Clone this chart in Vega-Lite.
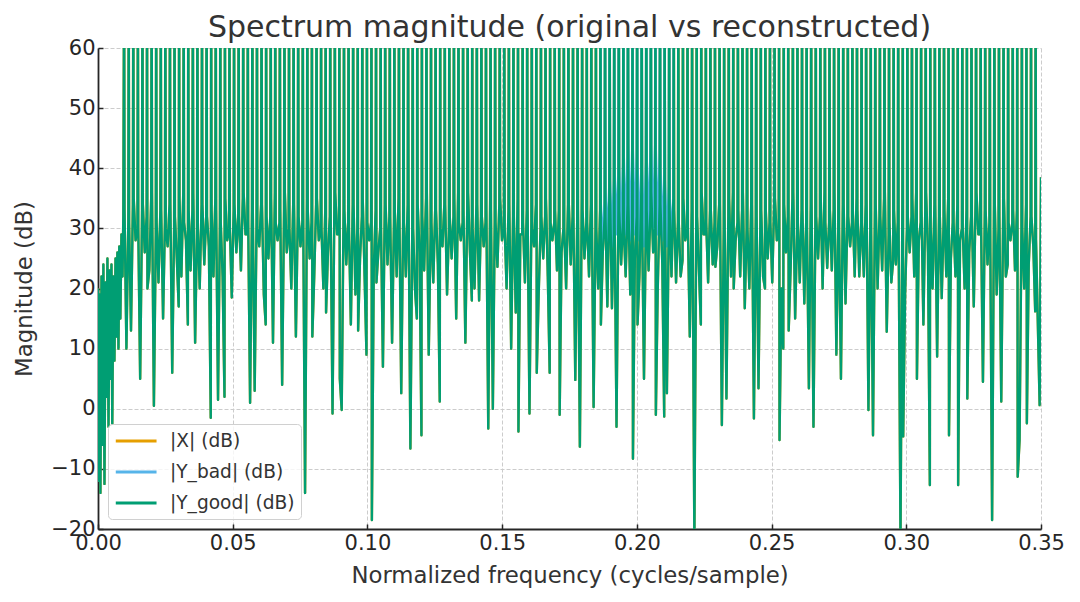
{
"$schema":"https://vega.github.io/schema/vega-lite/v6.json",
"width":943,"height":481,
"autosize":{"type":"none"},
"padding":{"left":98,"top":48,"right":39,"bottom":73},
"background":"white",
"title":{"text":"Spectrum magnitude (original vs reconstructed)","fontSize":30,"font":"DejaVu Sans","fontWeight":"normal","color":"#333333","anchor":"middle","frame":"group","offset":-6},
"datasets":{
"good":[
{"f":0.0,"db":20},{"f":0.0004,"db":-12},{"f":0.0006,"db":19},{"f":0.0009,"db":-14},{"f":0.0013,"db":22},{"f":0.0017,"db":-6},{"f":0.002,"db":24},{"f":0.0024,"db":-12.5},{"f":0.0028,"db":21},{"f":0.0031,"db":2},{"f":0.0035,"db":25},{"f":0.0039,"db":-3},{"f":0.0043,"db":23},{"f":0.0046,"db":5},{"f":0.005,"db":24},{"f":0.0053,"db":-2.5},{"f":0.0057,"db":22},{"f":0.0061,"db":8},{"f":0.0065,"db":25},{"f":0.0068,"db":12},{"f":0.0072,"db":26},{"f":0.0076,"db":10},{"f":0.0079,"db":27},{"f":0.0083,"db":15},{"f":0.0087,"db":29},{"f":0.0091,"db":22},{"f":0.0094,"db":32},
{"f":0.0097,"db":75},{"f":0.00985,"db":33},{"f":0.01055,"db":10},{"f":0.01125,"db":31},
{"f":0.0114,"db":75},{"f":0.01155,"db":31},{"f":0.01225,"db":13},{"f":0.01295,"db":34},
{"f":0.0131,"db":75},{"f":0.01325,"db":35},{"f":0.01395,"db":28},{"f":0.01465,"db":30},
{"f":0.0148,"db":75},{"f":0.01495,"db":30},{"f":0.01565,"db":5},{"f":0.01635,"db":33},
{"f":0.0165,"db":75},{"f":0.01665,"db":34},{"f":0.01735,"db":26},{"f":0.01805,"db":32},
{"f":0.0182,"db":75},{"f":0.01835,"db":20},{"f":0.01905,"db":23},{"f":0.01975,"db":35},
{"f":0.0199,"db":75},{"f":0.02005,"db":36},{"f":0.02075,"db":0.5},{"f":0.02145,"db":29},
{"f":0.0216,"db":75},{"f":0.02175,"db":31},{"f":0.02245,"db":21},{"f":0.02315,"db":33},
{"f":0.0233,"db":75},{"f":0.02345,"db":33},{"f":0.02415,"db":15},{"f":0.02485,"db":31},
{"f":0.025,"db":75},{"f":0.02515,"db":30},{"f":0.02585,"db":27},{"f":0.02655,"db":34},
{"f":0.0267,"db":75},{"f":0.02685,"db":34},{"f":0.02755,"db":6},{"f":0.02825,"db":30},
{"f":0.0284,"db":75},{"f":0.02855,"db":32},{"f":0.02925,"db":25},{"f":0.02995,"db":17},
{"f":0.0301,"db":75},{"f":0.03025,"db":35},{"f":0.03095,"db":22},{"f":0.03165,"db":36},
{"f":0.0318,"db":75},{"f":0.03195,"db":31},{"f":0.03265,"db":28},{"f":0.03335,"db":14},
{"f":0.0335,"db":75},{"f":0.03365,"db":33},{"f":0.03435,"db":23},{"f":0.03505,"db":33},
{"f":0.0352,"db":75},{"f":0.03535,"db":36},{"f":0.03605,"db":11},{"f":0.03675,"db":30},
{"f":0.0369,"db":75},{"f":0.03705,"db":30},{"f":0.03775,"db":20},{"f":0.03845,"db":34},
{"f":0.0386,"db":75},{"f":0.03875,"db":34},{"f":0.03945,"db":24},{"f":0.04015,"db":32},
{"f":0.0403,"db":75},{"f":0.04045,"db":32},{"f":0.04115,"db":27},{"f":0.04185,"db":-1.5},
{"f":0.042,"db":75},{"f":0.04215,"db":33},{"f":0.04285,"db":22},{"f":0.04355,"db":35},
{"f":0.0437,"db":75},{"f":0.04385,"db":33},{"f":0.04455,"db":1.5},{"f":0.04525,"db":31},
{"f":0.0454,"db":75},{"f":0.04555,"db":31},{"f":0.04625,"db":22},{"f":0.04695,"db":2},
{"f":0.0471,"db":75},{"f":0.04725,"db":35},{"f":0.04795,"db":28},{"f":0.04865,"db":30},
{"f":0.0488,"db":75},{"f":0.04895,"db":30},{"f":0.04965,"db":18.5},{"f":0.05035,"db":33},
{"f":0.0505,"db":75},{"f":0.05065,"db":34},{"f":0.05135,"db":26},{"f":0.05205,"db":32},
{"f":0.0522,"db":75},{"f":0.05235,"db":32},{"f":0.05305,"db":23},{"f":0.05375,"db":35},
{"f":0.0539,"db":75},{"f":0.05405,"db":36},{"f":0.05475,"db":29},{"f":0.05545,"db":29},
{"f":0.0556,"db":75},{"f":0.05575,"db":31},{"f":0.05645,"db":1},{"f":0.05715,"db":33},
{"f":0.0573,"db":75},{"f":0.05745,"db":33},{"f":0.05815,"db":3},{"f":0.05885,"db":31},
{"f":0.059,"db":75},{"f":0.05915,"db":30},{"f":0.05985,"db":27},{"f":0.06055,"db":34},
{"f":0.0607,"db":75},{"f":0.06085,"db":34},{"f":0.06155,"db":19},{"f":0.06225,"db":14},
{"f":0.0624,"db":75},{"f":0.06255,"db":32},{"f":0.06325,"db":25},{"f":0.06395,"db":32},
{"f":0.0641,"db":75},{"f":0.06425,"db":35},{"f":0.06495,"db":11},{"f":0.06565,"db":36},
{"f":0.0658,"db":75},{"f":0.06595,"db":31},{"f":0.06665,"db":28},{"f":0.06735,"db":31},
{"f":0.0675,"db":75},{"f":0.06765,"db":33},{"f":0.06835,"db":4},{"f":0.06905,"db":33},
{"f":0.0692,"db":75},{"f":0.06935,"db":36},{"f":0.07005,"db":26},{"f":0.07075,"db":30},
{"f":0.0709,"db":75},{"f":0.07105,"db":30},{"f":0.07175,"db":20},{"f":0.07245,"db":34},
{"f":0.0726,"db":75},{"f":0.07275,"db":34},{"f":0.07345,"db":12},{"f":0.07415,"db":32},
{"f":0.0743,"db":75},{"f":0.07445,"db":32},{"f":0.07515,"db":27},{"f":0.07585,"db":31},
{"f":0.076,"db":75},{"f":0.07615,"db":33},{"f":0.07685,"db":-14},{"f":0.07755,"db":35},
{"f":0.0777,"db":75},{"f":0.07785,"db":33},{"f":0.07855,"db":25},{"f":0.07925,"db":31},
{"f":0.0794,"db":75},{"f":0.07955,"db":12},{"f":0.08025,"db":22},{"f":0.08095,"db":34},
{"f":0.0811,"db":75},{"f":0.08125,"db":35},{"f":0.08195,"db":28},{"f":0.08265,"db":30},
{"f":0.0828,"db":75},{"f":0.08295,"db":30},{"f":0.08365,"db":20},{"f":0.08435,"db":33},
{"f":0.0845,"db":75},{"f":0.08465,"db":16},{"f":0.08535,"db":26},{"f":0.08605,"db":32},
{"f":0.0862,"db":75},{"f":0.08635,"db":32},{"f":0.08705,"db":-0.8},{"f":0.08775,"db":35},
{"f":0.0879,"db":75},{"f":0.08805,"db":36},{"f":0.08875,"db":29},{"f":0.08945,"db":29},
{"f":0.0896,"db":75},{"f":0.08975,"db":5},{"f":0.09045,"db":-0.2},{"f":0.09115,"db":33},
{"f":0.0913,"db":75},{"f":0.09145,"db":33},{"f":0.09215,"db":24},{"f":0.09285,"db":31},
{"f":0.093,"db":75},{"f":0.09315,"db":30},{"f":0.09385,"db":14},{"f":0.09455,"db":34},
{"f":0.0947,"db":75},{"f":0.09485,"db":34},{"f":0.09555,"db":19},{"f":0.09625,"db":30},
{"f":0.0964,"db":75},{"f":0.09655,"db":13},{"f":0.09725,"db":25},{"f":0.09795,"db":32},
{"f":0.0981,"db":75},{"f":0.09825,"db":35},{"f":0.09895,"db":22},{"f":0.09965,"db":9},
{"f":0.0998,"db":75},{"f":0.09995,"db":31},{"f":0.10065,"db":28},{"f":0.10135,"db":31},
{"f":0.1015,"db":75},{"f":0.10165,"db":-18.5},{"f":0.10235,"db":23},{"f":0.10305,"db":33},
{"f":0.1032,"db":75},{"f":0.10335,"db":21},{"f":0.10405,"db":26},{"f":0.10475,"db":30},
{"f":0.1049,"db":75},{"f":0.10505,"db":30},{"f":0.10575,"db":7},{"f":0.10645,"db":34},
{"f":0.1066,"db":75},{"f":0.10675,"db":34},{"f":0.10745,"db":24},{"f":0.10815,"db":32},
{"f":0.1083,"db":75},{"f":0.10845,"db":32},{"f":0.10915,"db":11},{"f":0.10985,"db":31},
{"f":0.11,"db":75},{"f":0.11015,"db":33},{"f":0.11085,"db":22},{"f":0.11155,"db":35},
{"f":0.1117,"db":75},{"f":0.11185,"db":33},{"f":0.11255,"db":2.6},{"f":0.11325,"db":31},
{"f":0.1134,"db":75},{"f":0.11355,"db":31},{"f":0.11425,"db":22},{"f":0.11495,"db":34},
{"f":0.1151,"db":75},{"f":0.11525,"db":35},{"f":0.11595,"db":-6.6},{"f":0.11665,"db":30},
{"f":0.1168,"db":75},{"f":0.11695,"db":30},{"f":0.11765,"db":20},{"f":0.11835,"db":15},
{"f":0.1185,"db":75},{"f":0.11865,"db":34},{"f":0.11935,"db":26},{"f":0.12005,"db":-4.4},
{"f":0.1202,"db":75},{"f":0.12035,"db":32},{"f":0.12105,"db":23},{"f":0.12175,"db":35},
{"f":0.1219,"db":75},{"f":0.12205,"db":36},{"f":0.12275,"db":9},{"f":0.12345,"db":29},
{"f":0.1236,"db":75},{"f":0.12375,"db":31},{"f":0.12445,"db":21},{"f":0.12515,"db":33},
{"f":0.1253,"db":75},{"f":0.12545,"db":33},{"f":0.12615,"db":24},{"f":0.12685,"db":1.2},
{"f":0.127,"db":75},{"f":0.12715,"db":30},{"f":0.12785,"db":27},{"f":0.12855,"db":34},
{"f":0.1287,"db":75},{"f":0.12885,"db":34},{"f":0.12955,"db":19},{"f":0.13025,"db":30},
{"f":0.1304,"db":75},{"f":0.13055,"db":32},{"f":0.13125,"db":25},{"f":0.13195,"db":32},
{"f":0.1321,"db":75},{"f":0.13225,"db":35},{"f":0.13295,"db":15},{"f":0.13365,"db":36},
{"f":0.1338,"db":75},{"f":0.13395,"db":31},{"f":0.13465,"db":28},{"f":0.13535,"db":31},
{"f":0.1355,"db":75},{"f":0.13565,"db":33},{"f":0.13635,"db":11},{"f":0.13705,"db":33},
{"f":0.1372,"db":75},{"f":0.13735,"db":36},{"f":0.13805,"db":26},{"f":0.13875,"db":18},
{"f":0.1389,"db":75},{"f":0.13905,"db":30},{"f":0.13975,"db":20},{"f":0.14045,"db":34},
{"f":0.1406,"db":75},{"f":0.14075,"db":34},{"f":0.14145,"db":18},{"f":0.14215,"db":32},
{"f":0.1423,"db":75},{"f":0.14245,"db":32},{"f":0.14315,"db":27},{"f":0.14385,"db":31},
{"f":0.144,"db":75},{"f":0.14415,"db":33},{"f":0.14485,"db":-3.3},{"f":0.14555,"db":35},
{"f":0.1457,"db":75},{"f":0.14585,"db":33},{"f":0.14655,"db":0},{"f":0.14725,"db":31},
{"f":0.1474,"db":75},{"f":0.14755,"db":31},{"f":0.14825,"db":23.6},{"f":0.14895,"db":34},
{"f":0.1491,"db":75},{"f":0.14925,"db":35},{"f":0.14995,"db":28},{"f":0.15065,"db":30},
{"f":0.1508,"db":75},{"f":0.15095,"db":30},{"f":0.15165,"db":20},{"f":0.15235,"db":33},
{"f":0.1525,"db":75},{"f":0.15265,"db":34},{"f":0.15335,"db":10},{"f":0.15405,"db":32},
{"f":0.1542,"db":75},{"f":0.15435,"db":32},{"f":0.15505,"db":16},{"f":0.15575,"db":35},
{"f":0.1559,"db":75},{"f":0.15605,"db":-3.8},{"f":0.15675,"db":29},{"f":0.15745,"db":29},
{"f":0.1576,"db":75},{"f":0.15775,"db":31},{"f":0.15845,"db":21},{"f":0.15915,"db":33},
{"f":0.1593,"db":75},{"f":0.15945,"db":33},{"f":0.16015,"db":-0.8},{"f":0.16085,"db":31},
{"f":0.161,"db":75},{"f":0.16115,"db":30},{"f":0.16185,"db":27},{"f":0.16255,"db":34},
{"f":0.1627,"db":75},{"f":0.16285,"db":6},{"f":0.16355,"db":19},{"f":0.16425,"db":30},
{"f":0.1644,"db":75},{"f":0.16455,"db":32},{"f":0.16525,"db":25},{"f":0.16595,"db":32},
{"f":0.1661,"db":75},{"f":0.16625,"db":35},{"f":0.16695,"db":22},{"f":0.16765,"db":6},
{"f":0.1678,"db":75},{"f":0.16795,"db":31},{"f":0.16865,"db":28},{"f":0.16935,"db":31},
{"f":0.1695,"db":75},{"f":0.16965,"db":33},{"f":0.17035,"db":23},{"f":0.17105,"db":33},
{"f":0.1712,"db":75},{"f":0.17135,"db":-1},{"f":0.17205,"db":26},{"f":0.17275,"db":30},
{"f":0.1729,"db":75},{"f":0.17305,"db":30},{"f":0.17375,"db":20},{"f":0.17445,"db":34},
{"f":0.1746,"db":75},{"f":0.17475,"db":34},{"f":0.17545,"db":24},{"f":0.17615,"db":32},
{"f":0.1763,"db":75},{"f":0.17645,"db":32},{"f":0.17715,"db":4.8},{"f":0.17785,"db":31},
{"f":0.178,"db":75},{"f":0.17815,"db":33},{"f":0.17885,"db":-6.3},{"f":0.17955,"db":35},
{"f":0.1797,"db":75},{"f":0.17985,"db":33},{"f":0.18055,"db":25},{"f":0.18125,"db":31},
{"f":0.1814,"db":75},{"f":0.18155,"db":31},{"f":0.18225,"db":22},{"f":0.18295,"db":34},
{"f":0.1831,"db":75},{"f":0.18325,"db":35},{"f":0.18395,"db":0.3},{"f":0.18465,"db":30},
{"f":0.1848,"db":75},{"f":0.18495,"db":30},{"f":0.18565,"db":20},{"f":0.18635,"db":33},
{"f":0.1865,"db":75},{"f":0.18665,"db":14},{"f":0.18735,"db":26},{"f":0.18805,"db":32},
{"f":0.1882,"db":75},{"f":0.18835,"db":32},{"f":0.18905,"db":17},{"f":0.18975,"db":35},
{"f":0.1899,"db":75},{"f":0.19005,"db":36},{"f":0.19075,"db":16.7},{"f":0.19145,"db":29},
{"f":0.1916,"db":75},{"f":0.19175,"db":31},{"f":0.19245,"db":-3},{"f":0.19315,"db":33},
{"f":0.1933,"db":75},{"f":0.19345,"db":33},{"f":0.19415,"db":24},{"f":0.19485,"db":31},
{"f":0.195,"db":75},{"f":0.19515,"db":30},{"f":0.19585,"db":22},{"f":0.19655,"db":34},
{"f":0.1967,"db":75},{"f":0.19685,"db":34},{"f":0.19755,"db":19},{"f":0.19825,"db":30},
{"f":0.1984,"db":75},{"f":0.19855,"db":-8.3},{"f":0.19925,"db":25},{"f":0.19995,"db":32},
{"f":0.2001,"db":75},{"f":0.20025,"db":14},{"f":0.20095,"db":22},{"f":0.20165,"db":36},
{"f":0.2018,"db":75},{"f":0.20195,"db":31},{"f":0.20265,"db":5},{"f":0.20335,"db":31},
{"f":0.2035,"db":75},{"f":0.20365,"db":33},{"f":0.20435,"db":23},{"f":0.20505,"db":33},
{"f":0.2052,"db":75},{"f":0.20535,"db":36},{"f":0.20605,"db":26},{"f":0.20675,"db":30},
{"f":0.2069,"db":75},{"f":0.20705,"db":-1},{"f":0.20775,"db":20},{"f":0.20845,"db":34},
{"f":0.2086,"db":75},{"f":0.20875,"db":34},{"f":0.20945,"db":24},{"f":0.21015,"db":-1.3},
{"f":0.2103,"db":75},{"f":0.21045,"db":32},{"f":0.21115,"db":2.6},{"f":0.21185,"db":31},
{"f":0.212,"db":75},{"f":0.21215,"db":33},{"f":0.21285,"db":22},{"f":0.21355,"db":35},
{"f":0.2137,"db":75},{"f":0.21385,"db":33},{"f":0.21455,"db":21},{"f":0.21525,"db":31},
{"f":0.2154,"db":75},{"f":0.21555,"db":31},{"f":0.21625,"db":22},{"f":0.21695,"db":24.7},
{"f":0.2171,"db":75},{"f":0.21725,"db":35},{"f":0.21795,"db":28},{"f":0.21865,"db":30},
{"f":0.2188,"db":75},{"f":0.21895,"db":30},{"f":0.21965,"db":12},{"f":0.22035,"db":33},
{"f":0.2205,"db":75},{"f":0.22065,"db":34},{"f":0.22135,"db":-22},{"f":0.22205,"db":32},
{"f":0.2222,"db":75},{"f":0.22235,"db":32},{"f":0.22305,"db":23},{"f":0.22375,"db":14},
{"f":0.2239,"db":75},{"f":0.22405,"db":36},{"f":0.22475,"db":29},{"f":0.22545,"db":29},
{"f":0.2256,"db":75},{"f":0.22575,"db":31},{"f":0.22645,"db":21},{"f":0.22715,"db":33},
{"f":0.2273,"db":75},{"f":0.22745,"db":33},{"f":0.22815,"db":24},{"f":0.22885,"db":31},
{"f":0.229,"db":75},{"f":0.22915,"db":23.6},{"f":0.22985,"db":27},{"f":0.23055,"db":34},
{"f":0.2307,"db":75},{"f":0.23085,"db":34},{"f":0.23155,"db":-2.7},{"f":0.23225,"db":30},
{"f":0.2324,"db":75},{"f":0.23255,"db":32},{"f":0.23325,"db":1.7},{"f":0.23395,"db":32},
{"f":0.2341,"db":75},{"f":0.23425,"db":35},{"f":0.23495,"db":22},{"f":0.23565,"db":36},
{"f":0.2358,"db":75},{"f":0.23595,"db":20},{"f":0.23665,"db":28},{"f":0.23735,"db":31},
{"f":0.2375,"db":75},{"f":0.23765,"db":33},{"f":0.23835,"db":22},{"f":0.23905,"db":33},
{"f":0.2392,"db":75},{"f":0.23935,"db":36},{"f":0.24005,"db":16.7},{"f":0.24075,"db":30},
{"f":0.2409,"db":75},{"f":0.24105,"db":30},{"f":0.24175,"db":20},{"f":0.24245,"db":34},
{"f":0.2426,"db":75},{"f":0.24275,"db":34},{"f":0.24345,"db":-1.6},{"f":0.24415,"db":32},
{"f":0.2443,"db":75},{"f":0.24445,"db":32},{"f":0.24515,"db":3.4},{"f":0.24585,"db":31},
{"f":0.246,"db":75},{"f":0.24615,"db":33},{"f":0.24685,"db":22},{"f":0.24755,"db":20},
{"f":0.2477,"db":75},{"f":0.24785,"db":33},{"f":0.24855,"db":25},{"f":0.24925,"db":31},
{"f":0.2494,"db":75},{"f":0.24955,"db":31},{"f":0.25025,"db":21},{"f":0.25095,"db":34},
{"f":0.2511,"db":75},{"f":0.25125,"db":35},{"f":0.25195,"db":28},{"f":0.25265,"db":30},
{"f":0.2528,"db":75},{"f":0.25295,"db":-5.2},{"f":0.25365,"db":20},{"f":0.25435,"db":10},
{"f":0.2545,"db":75},{"f":0.25465,"db":34},{"f":0.25535,"db":26},{"f":0.25605,"db":32},
{"f":0.2562,"db":75},{"f":0.25635,"db":13},{"f":0.25705,"db":23},{"f":0.25775,"db":35},
{"f":0.2579,"db":75},{"f":0.25805,"db":36},{"f":0.25875,"db":15},{"f":0.25945,"db":29},
{"f":0.2596,"db":75},{"f":0.25975,"db":31},{"f":0.26045,"db":21},{"f":0.26115,"db":33},
{"f":0.2613,"db":75},{"f":0.26145,"db":33},{"f":0.26215,"db":17.5},{"f":0.26285,"db":31},
{"f":0.263,"db":75},{"f":0.26315,"db":30},{"f":0.26385,"db":3.4},{"f":0.26455,"db":34},
{"f":0.2647,"db":75},{"f":0.26485,"db":34},{"f":0.26555,"db":-3},{"f":0.26625,"db":30},
{"f":0.2664,"db":75},{"f":0.26655,"db":32},{"f":0.26725,"db":25},{"f":0.26795,"db":32},
{"f":0.2681,"db":75},{"f":0.26825,"db":35},{"f":0.26895,"db":20},{"f":0.26965,"db":36},
{"f":0.2698,"db":75},{"f":0.26995,"db":31},{"f":0.27065,"db":23.4},{"f":0.27135,"db":31},
{"f":0.2715,"db":75},{"f":0.27165,"db":33},{"f":0.27235,"db":23},{"f":0.27305,"db":33},
{"f":0.2732,"db":75},{"f":0.27335,"db":36},{"f":0.27405,"db":9},{"f":0.27475,"db":30},
{"f":0.2749,"db":75},{"f":0.27505,"db":30},{"f":0.27575,"db":5},{"f":0.27645,"db":34},
{"f":0.2766,"db":75},{"f":0.27675,"db":34},{"f":0.27745,"db":17.5},{"f":0.27815,"db":32},
{"f":0.2783,"db":75},{"f":0.27845,"db":32},{"f":0.27915,"db":27},{"f":0.27985,"db":31},
{"f":0.28,"db":75},{"f":0.28015,"db":33},{"f":0.28085,"db":22},{"f":0.28155,"db":35},
{"f":0.2817,"db":75},{"f":0.28185,"db":33},{"f":0.28255,"db":22},{"f":0.28325,"db":31},
{"f":0.2834,"db":75},{"f":0.28355,"db":31},{"f":0.28425,"db":22},{"f":0.28495,"db":34},
{"f":0.2851,"db":75},{"f":0.28525,"db":35},{"f":0.28595,"db":-0.2},{"f":0.28665,"db":30},
{"f":0.2868,"db":75},{"f":0.28695,"db":30},{"f":0.28765,"db":-4.4},{"f":0.28835,"db":33},
{"f":0.2885,"db":75},{"f":0.28865,"db":34},{"f":0.28935,"db":20},{"f":0.29005,"db":32},
{"f":0.2902,"db":75},{"f":0.29035,"db":32},{"f":0.29105,"db":23},{"f":0.29175,"db":35},
{"f":0.2919,"db":75},{"f":0.29205,"db":36},{"f":0.29275,"db":12.8},{"f":0.29345,"db":29},
{"f":0.2936,"db":75},{"f":0.29375,"db":31},{"f":0.29445,"db":21},{"f":0.29515,"db":24.7},
{"f":0.2953,"db":75},{"f":0.29545,"db":33},{"f":0.29615,"db":24},{"f":0.29685,"db":31},
{"f":0.297,"db":75},{"f":0.29715,"db":30},{"f":0.29785,"db":-22},{"f":0.29855,"db":34},
{"f":0.2987,"db":75},{"f":0.29885,"db":-4.6},{"f":0.29955,"db":19},{"f":0.30025,"db":30},
{"f":0.3004,"db":75},{"f":0.30055,"db":32},{"f":0.30125,"db":26},{"f":0.30195,"db":32},
{"f":0.3021,"db":75},{"f":0.30225,"db":35},{"f":0.30295,"db":22},{"f":0.30365,"db":36},
{"f":0.3038,"db":75},{"f":0.30395,"db":5},{"f":0.30465,"db":28},{"f":0.30535,"db":31},
{"f":0.3055,"db":75},{"f":0.30565,"db":33},{"f":0.30635,"db":14},{"f":0.30705,"db":33},
{"f":0.3072,"db":75},{"f":0.30735,"db":36},{"f":0.30805,"db":26},{"f":0.30875,"db":-12.7},
{"f":0.3089,"db":75},{"f":0.30905,"db":30},{"f":0.30975,"db":20},{"f":0.31045,"db":34},
{"f":0.3106,"db":75},{"f":0.31075,"db":34},{"f":0.31145,"db":8.7},{"f":0.31215,"db":32},
{"f":0.3123,"db":75},{"f":0.31245,"db":32},{"f":0.31315,"db":18.4},{"f":0.31385,"db":31},
{"f":0.314,"db":75},{"f":0.31415,"db":33},{"f":0.31485,"db":22},{"f":0.31555,"db":35},
{"f":0.3157,"db":75},{"f":0.31585,"db":-4.4},{"f":0.31655,"db":25},{"f":0.31725,"db":31},
{"f":0.3174,"db":75},{"f":0.31755,"db":31},{"f":0.31825,"db":22},{"f":0.31895,"db":34},
{"f":0.3191,"db":75},{"f":0.31925,"db":-12.7},{"f":0.31995,"db":28},{"f":0.32065,"db":30},
{"f":0.3208,"db":75},{"f":0.32095,"db":30},{"f":0.32165,"db":20},{"f":0.32235,"db":33},
{"f":0.3225,"db":75},{"f":0.32265,"db":1.7},{"f":0.32335,"db":26},{"f":0.32405,"db":32},
{"f":0.3242,"db":75},{"f":0.32435,"db":32},{"f":0.32505,"db":17},{"f":0.32575,"db":35},
{"f":0.3259,"db":75},{"f":0.32605,"db":36},{"f":0.32675,"db":29},{"f":0.32745,"db":29},
{"f":0.3276,"db":75},{"f":0.32775,"db":31},{"f":0.32845,"db":4.5},{"f":0.32915,"db":33},
{"f":0.3293,"db":75},{"f":0.32945,"db":33},{"f":0.33015,"db":24},{"f":0.33085,"db":31},
{"f":0.331,"db":75},{"f":0.33115,"db":30},{"f":0.33185,"db":-18.5},{"f":0.33255,"db":34},
{"f":0.3327,"db":75},{"f":0.33285,"db":34},{"f":0.33355,"db":19},{"f":0.33425,"db":30},
{"f":0.3344,"db":75},{"f":0.33455,"db":32},{"f":0.33525,"db":1.2},{"f":0.33595,"db":32},
{"f":0.3361,"db":75},{"f":0.33625,"db":35},{"f":0.33695,"db":22},{"f":0.33765,"db":24},
{"f":0.3378,"db":75},{"f":0.33795,"db":31},{"f":0.33865,"db":28},{"f":0.33935,"db":31},
{"f":0.3395,"db":75},{"f":0.33965,"db":33},{"f":0.34035,"db":23},{"f":0.34105,"db":33},
{"f":0.3412,"db":75},{"f":0.34135,"db":-11.3},{"f":0.34205,"db":-5.2},{"f":0.34275,"db":30},
{"f":0.3429,"db":75},{"f":0.34305,"db":30},{"f":0.34375,"db":20},{"f":0.34445,"db":34},
{"f":0.3446,"db":75},{"f":0.34475,"db":-2.4},{"f":0.34545,"db":24},{"f":0.34615,"db":32},
{"f":0.3463,"db":75},{"f":0.34645,"db":32},{"f":0.34715,"db":27},{"f":0.34785,"db":16.2},
{"f":0.348,"db":75},{"f":0.34815,"db":28},{"f":0.3495,"db":0.6},{"f":0.35,"db":38.5}
],
"bad":[
{"f":0.1865,"db":75},{"f":0.18665,"db":34},{"f":0.18735,"db":27},{"f":0.18805,"db":35},
{"f":0.1882,"db":75},{"f":0.18835,"db":36},{"f":0.18905,"db":28},{"f":0.18975,"db":37},
{"f":0.1899,"db":75},{"f":0.19005,"db":38},{"f":0.19075,"db":27},{"f":0.19145,"db":38},
{"f":0.1916,"db":75},{"f":0.19175,"db":39},{"f":0.19245,"db":29},{"f":0.19315,"db":40},
{"f":0.1933,"db":75},{"f":0.19345,"db":40},{"f":0.19415,"db":28},{"f":0.19485,"db":41},
{"f":0.195,"db":75},{"f":0.19515,"db":42},{"f":0.19585,"db":29},{"f":0.19655,"db":42},
{"f":0.1967,"db":75},{"f":0.19685,"db":44},{"f":0.19755,"db":28},{"f":0.19825,"db":43},
{"f":0.1984,"db":75},{"f":0.19855,"db":43},{"f":0.19925,"db":29},{"f":0.19995,"db":42},
{"f":0.2001,"db":75},{"f":0.20025,"db":41},{"f":0.20095,"db":28},{"f":0.20165,"db":40},
{"f":0.2018,"db":75},{"f":0.20195,"db":40},{"f":0.20265,"db":27},{"f":0.20335,"db":41},
{"f":0.2035,"db":75},{"f":0.20365,"db":42},{"f":0.20435,"db":29},{"f":0.20505,"db":43},
{"f":0.2052,"db":75},{"f":0.20535,"db":44},{"f":0.20605,"db":28},{"f":0.20675,"db":44},
{"f":0.2069,"db":75},{"f":0.20705,"db":43},{"f":0.20775,"db":29},{"f":0.20845,"db":42},
{"f":0.2086,"db":75},{"f":0.20875,"db":40},{"f":0.20945,"db":28},{"f":0.21015,"db":39},
{"f":0.2103,"db":75},{"f":0.21045,"db":38},{"f":0.21115,"db":27},{"f":0.21185,"db":37},
{"f":0.212,"db":75},{"f":0.21215,"db":36},{"f":0.21285,"db":28},{"f":0.21355,"db":35},
{"f":0.2137,"db":75}
]
},
"encoding":{
"x":{"field":"f","type":"quantitative","scale":{"domain":[0,0.35],"nice":false,"zero":false},"axis":{"title":"Normalized frequency (cycles/sample)","values":[0,0.05,0.1,0.15,0.2,0.25,0.3,0.35],"format":".2f","labelFlush":false}},
"y":{"field":"db","type":"quantitative","scale":{"domain":[-20,60],"nice":false,"zero":false},"axis":{"title":"Magnitude (dB)","values":[-20,-10,0,10,20,30,40,50,60],"format":"d"}}
},
"layer":[
{"data":{"name":"good"},"mark":{"type":"line","clip":true,"strokeWidth":2.4,"strokeJoin":"round"},"encoding":{"color":{"datum":"|X| (dB)","scale":{"domain":["|X| (dB)","|Y_bad| (dB)","|Y_good| (dB)"],"range":["#E69F00","#56B4E9","#009E73"]},"legend":{"title":null}}}},
{"data":{"name":"bad"},"mark":{"type":"line","clip":true,"strokeWidth":2.4,"strokeJoin":"round"},"encoding":{"color":{"datum":"|Y_bad| (dB)","scale":{"domain":["|X| (dB)","|Y_bad| (dB)","|Y_good| (dB)"],"range":["#E69F00","#56B4E9","#009E73"]},"legend":{"title":null}}}},
{"data":{"name":"good"},"mark":{"type":"line","clip":true,"strokeWidth":2.4,"strokeJoin":"round"},"encoding":{"color":{"datum":"|Y_good| (dB)","scale":{"domain":["|X| (dB)","|Y_bad| (dB)","|Y_good| (dB)"],"range":["#E69F00","#56B4E9","#009E73"]},"legend":{"title":null}}}}
],
"config":{
"font":"DejaVu Sans",
"view":{"stroke":null},
"axis":{"domainColor":"#262626","domainWidth":1.8,"tickColor":"#262626","tickWidth":1.5,"tickSize":-5,"labelFontSize":21,"labelColor":"#262626","labelFont":"DejaVu Sans","labelPadding":8,"labelOverlap":false,"titleFont":"DejaVu Sans","titleFontSize":22.8,"titleFontWeight":"normal","titleColor":"#333333","gridColor":"#cccccc","gridDash":[4,2],"gridWidth":1},
"axisX":{"titlePadding":11},
"axisY":{"titlePadding":14},
"legend":{"orient":"bottom-left","offset":10,"padding":6,"fillColor":"rgba(255,255,255,0.8)","strokeColor":"#d0d0d0","strokeWidth":1,"cornerRadius":4,"symbolType":"M-0.97,0H3.32","symbolSize":361,"symbolStrokeWidth":3,"labelFontSize":18.6,"labelFont":"DejaVu Sans","labelColor":"#333333","labelOffset":34,"rowPadding":10}
}
}
